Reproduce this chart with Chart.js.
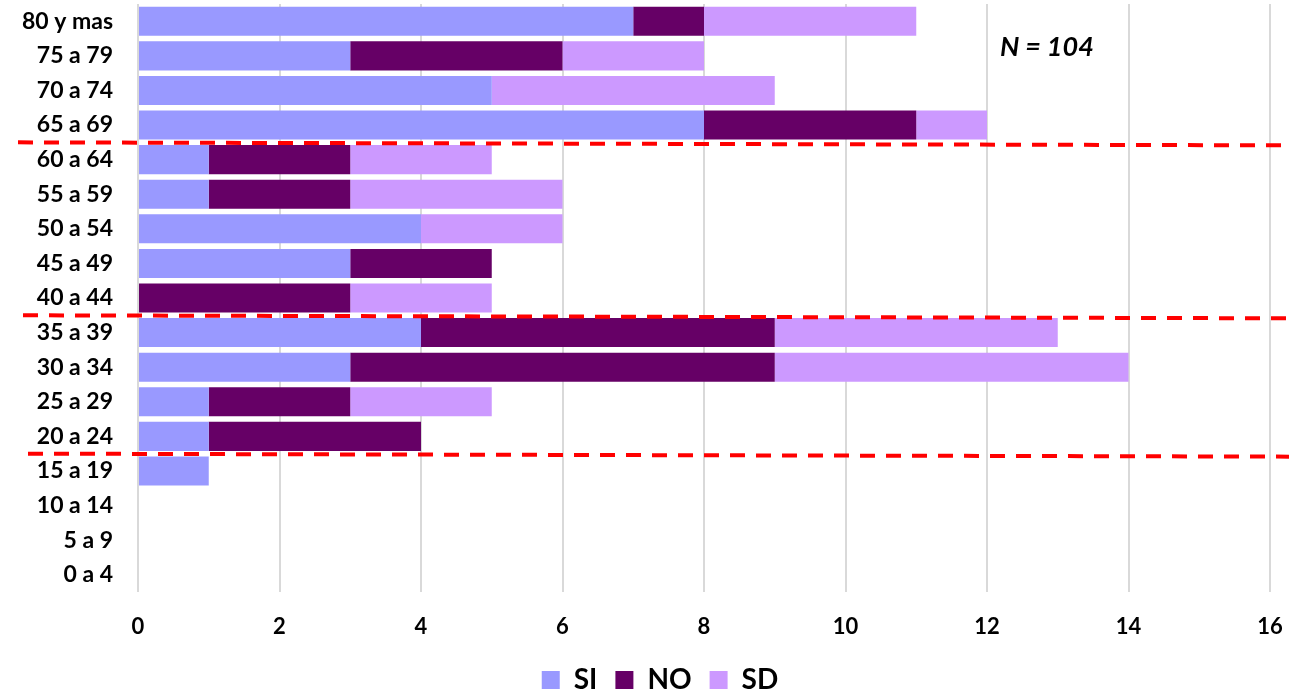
<!DOCTYPE html>
<html>
<head>
<meta charset="utf-8">
<script src="https://cdn.jsdelivr.net/npm/chart.js@4.4.0/dist/chart.umd.min.js"></script>
<style>
  html, body { margin: 0; padding: 0; background: #ffffff; }
  #wrap { width: 1307px; height: 694px; position: relative; }
</style>
</head>
<body>
<div id="wrap"><canvas id="c" width="1307" height="694"></canvas></div>
<script>
const categories = ["80 y mas","75 a 79","70 a 74","65 a 69","60 a 64","55 a 59","50 a 54","45 a 49","40 a 44","35 a 39","30 a 34","25 a 29","20 a 24","15 a 19","10 a 14","5 a 9","0 a 4"];
const siValues = [7,3,5,8,1,1,4,3,0,4,3,1,1,1,0,0,0];
const noValues = [1,3,0,3,2,2,0,2,3,5,6,2,3,0,0,0,0];
const sdValues = [3,2,4,1,2,3,2,0,2,4,5,2,0,0,0,0,0];
const xTicks = [0,2,4,6,8,10,12,14,16];
const separatorsAfter = [3, 8, 12]; // dashed lines drawn below these category indexes
const annotationText = "N = 104";

const FONT = "Lato, 'Open Sans', 'Liberation Sans', sans-serif";

const overlay = {
  id: 'overlay',
  afterLayout(chart) {
    if (chart.legend) {
      chart.legend.top += 10; chart.legend.bottom += 10;
      chart.legend.left += 25; chart.legend.right += 25;
    }
  },
  afterDatasetsDraw(chart) {
    const ctx = chart.ctx;
    const y = chart.scales.y;
    const starts = [18, 23, 28];
    ctx.save();
    ctx.strokeStyle = '#ff0000';
    ctx.lineWidth = 4;
    ctx.setLineDash([15, 11]);
    separatorsAfter.forEach((idx, k) => {
      const py = (y.getPixelForValue(idx) + y.getPixelForValue(idx + 1)) / 2;
      ctx.beginPath();
      ctx.moveTo(starts[k], py);
      ctx.lineTo(1289, py + 3);
      ctx.stroke();
    });
    ctx.restore();
    ctx.save();
    ctx.fillStyle = '#000000';
    ctx.font = "italic bold 27px " + FONT;
    ctx.textBaseline = 'middle';
    ctx.textAlign = 'left';
    ctx.fillText(annotationText, 1000, 47);
    ctx.restore();
  }
};

new Chart(document.getElementById('c'), {
  type: 'bar',
  data: {
    labels: categories,
    datasets: [
      { label: 'SI', data: siValues, backgroundColor: '#9999ff', borderWidth: 0 },
      { label: 'NO', data: noValues, backgroundColor: '#660066', borderWidth: 0 },
      { label: 'SD', data: sdValues, backgroundColor: '#cc99ff', borderWidth: 0 }
    ]
  },
  options: {
    indexAxis: 'y',
    responsive: false,
    animation: false,
    devicePixelRatio: 1,
    datasets: { bar: { barPercentage: 0.84, categoryPercentage: 1.0 } },
    layout: { padding: { left: 0, right: 37, top: 4, bottom: 0 } },
    scales: {
      x: {
        stacked: true,
        min: 0, max: 16,
        afterBuildTicks(scale) { scale.ticks = xTicks.map(v => ({ value: v })); },
        afterFit(scale) { scale.height = 46; },
        grid: { color: '#d9d9d9', lineWidth: 2, drawTicks: false },
        border: { display: false },
        ticks: { padding: 22, color: '#000000', font: { family: FONT, size: 22, weight: 'bold' } }
      },
      y: {
        stacked: true,
        afterFit(scale) { scale.width = 138; scale.paddingTop = 0; scale.paddingBottom = 0; },
        grid: { display: false, drawTicks: false },
        border: { display: false },
        ticks: { padding: 25, color: '#000000', autoSkip: false, font: { family: FONT, size: 23, weight: 'bold' } }
      }
    },
    plugins: {
      legend: {
        position: 'bottom',
        labels: {
          boxWidth: 18, boxHeight: 18, padding: 18,
          color: '#000000',
          font: { family: FONT, size: 28, weight: 'bold' }
        }
      },
      tooltip: { enabled: false }
    }
  },
  plugins: [overlay]
});
</script>
</body>
</html>
